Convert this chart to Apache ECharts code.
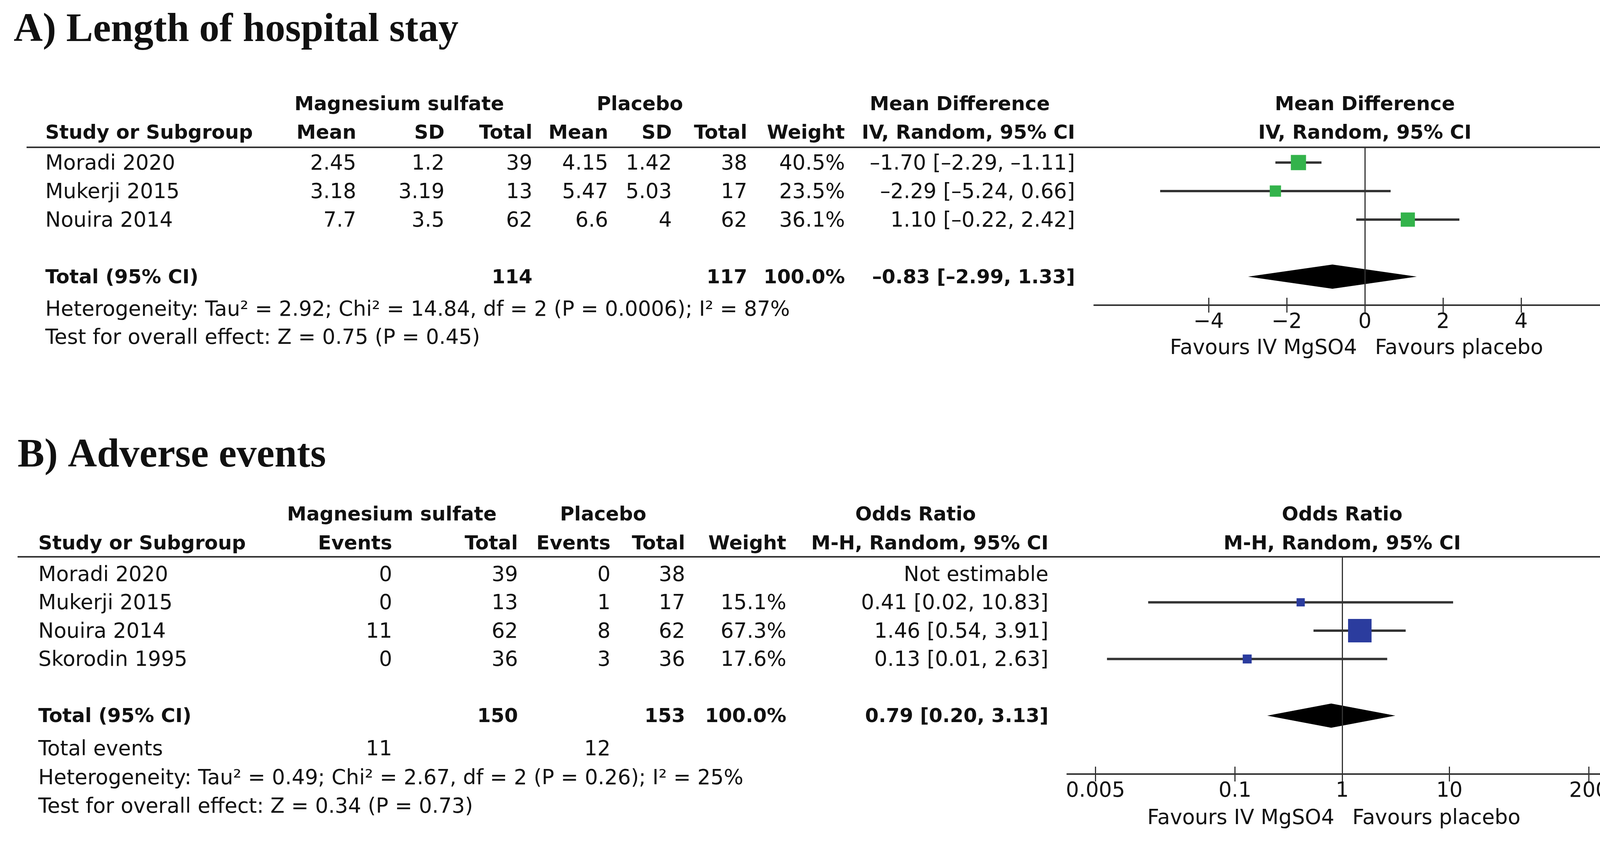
<!DOCTYPE html>
<html>
<head>
<meta charset="utf-8">
<title>Forest plots</title>
<script src="https://cdn.jsdelivr.net/npm/echarts@6/dist/echarts.min.js"></script>
<style>
  html, body { margin: 0; padding: 0; background: #fff; }
  #main { width: 4277px; height: 2160px; }
</style>
</head>
<body>
<div id="main"></div>
<script>
// A) Length of hospital stay
var studiesA = ['Moradi 2020', 'Mukerji 2015', 'Nouira 2014'];
var mgMeanA = [2.45, 3.18, 7.7];
var mgSdA = [1.2, 3.19, 3.5];
var mgTotalA = [39, 13, 62];
var plMeanA = [4.15, 5.47, 6.6];
var plSdA = [1.42, 5.03, 4];
var plTotalA = [38, 17, 62];
var weightA = [40.5, 23.5, 36.1];
var mdA = [-1.70, -2.29, 1.10];
var mdLowA = [-2.29, -5.24, -0.22];
var mdHighA = [-1.11, 0.66, 2.42];
var totalsA = [114, 117];
var pooledA = [-0.83, -2.99, 1.33];   // estimate, lower, upper
var hetA = 'Heterogeneity: Tau² = 2.92; Chi² = 14.84, df = 2 (P = 0.0006); I² = 87%';
var testA = 'Test for overall effect: Z = 0.75 (P = 0.45)';
var ticksA = [-4, -2, 0, 2, 4];

// B) Adverse events
var studiesB = ['Moradi 2020', 'Mukerji 2015', 'Nouira 2014', 'Skorodin 1995'];
var mgEventsB = [0, 0, 11, 0];
var mgTotalB = [39, 13, 62, 36];
var plEventsB = [0, 1, 8, 3];
var plTotalB = [38, 17, 62, 36];
var weightB = [null, 15.1, 67.3, 17.6];
var orB = [null, 0.41, 1.46, 0.13];
var orLowB = [null, 0.0155, 0.54, 0.0064];
var orHighB = [null, 10.83, 3.91, 2.63];
var totalsB = [150, 153];
var eventsB = [11, 12];
var pooledB = [0.79, 0.20, 3.13];
var hetB = 'Heterogeneity: Tau² = 0.49; Chi² = 2.67, df = 2 (P = 0.26); I² = 25%';
var testB = 'Test for overall effect: Z = 0.34 (P = 0.73)';
var ticksB = [0.005, 0.1, 1, 10, 200];

var FONT = '"DejaVu Sans", sans-serif';
var INK = '#111';
var LINE = '#333';
var GREEN = '#33b34b';
var BLUE = '#2b3c9e';

// row layout (pixels)
var rowA0 = 416, rowStepA = 73;
var rowB0 = 1469, rowStepB = 72.5;

function fmt(v) {
  return (v < 0 ? '\u2013' : '') + Math.abs(v).toFixed(2);
}
function ci(e, lo, hi) {
  return fmt(e) + ' [' + fmt(lo) + ', ' + fmt(hi) + ']';
}
function txt(x, y, s, align, bold) {
  return {
    type: 'text', x: x, y: y + 4, silent: true,
    style: {
      text: s, fill: INK, fontFamily: FONT,
      fontSize: bold ? 50 : 53, fontWeight: bold ? 'bold' : 'normal',
      align: align || 'left', verticalAlign: 'middle'
    }
  };
}
function title(x, y, s) {
  return {
    type: 'text', x: x, y: y, silent: true,
    style: {
      text: s, fill: INK, fontFamily: '"Liberation Serif", serif',
      fontSize: 103, fontWeight: 'bold', align: 'left', verticalAlign: 'middle'
    }
  };
}
function hline(x1, x2, y) {
  return { type: 'line', silent: true, shape: { x1: x1, y1: y, x2: x2, y2: y }, style: { stroke: LINE, lineWidth: 4 } };
}

function renderWhisker(params, api) {
  var a = api.coord([api.value(0), api.value(2)]);
  var b = api.coord([api.value(1), api.value(2)]);
  return { type: 'line', shape: { x1: a[0], y1: a[1], x2: b[0], y2: b[1] }, style: { stroke: LINE, lineWidth: 6 } };
}
function renderDiamond(params, api) {
  var c = api.coord([api.value(0), api.value(3)]);
  var l = api.coord([api.value(1), api.value(3)]);
  var r = api.coord([api.value(2), api.value(3)]);
  return {
    type: 'polygon',
    shape: { points: [[l[0], c[1]], [c[0], c[1] - 31], [r[0], c[1]], [c[0], c[1] + 31]] },
    style: { fill: '#000' }
  };
}

function lg(v) { return Math.log10(v); }

function xAxes(grid, min, max, ticks, formatter) {
  var tickStyle = { color: LINE, width: 3 };
  return [{
    type: 'value', gridIndex: grid, position: 'bottom', min: min, max: max,
    splitLine: { show: false },
    axisLine: { onZero: false, lineStyle: { color: LINE, width: 4 } },
    axisTick: { customValues: ticks, length: 19, lineStyle: tickStyle },
    axisLabel: { customValues: ticks, margin: 18, fontFamily: FONT, fontSize: 53, color: INK, formatter: formatter }
  }, {
    type: 'value', gridIndex: grid, position: 'bottom', min: min, max: max,
    splitLine: { show: false },
    axisLine: { show: false, onZero: false },
    axisTick: { customValues: ticks, inside: true, length: 19, lineStyle: tickStyle },
    axisLabel: { show: false }
  }];
}

var chart = echarts.init(document.getElementById('main'));

var ticksBLog = ticksB.map(lg);
var idxB = [1, 2, 3];   // rows of panel B that have an estimate

var option = {
  animation: false,
  backgroundColor: '#fff',
  grid: [
    { left: 2801, top: 377, width: 1388, height: 404, outerBoundsMode: 'none' },
    { left: 2732, top: 1425, width: 1405, height: 556, outerBoundsMode: 'none' }
  ],
  xAxis: xAxes(0, -6.93, 6.95, ticksA, function (v) {
    return (v < 0 ? '\u2212' : '') + Math.abs(v);
  }).concat(xAxes(1, -2.565, 2.554, ticksBLog, function (v) {
    for (var i = 0; i < ticksB.length; i++) {
      if (Math.abs(ticksBLog[i] - v) < 1e-6) return String(ticksB[i]);
    }
    return '';
  })),
  yAxis: [
    { type: 'value', gridIndex: 0, inverse: true, show: false,
      min: (377 - rowA0) / rowStepA, max: (781 - rowA0) / rowStepA },
    { type: 'value', gridIndex: 1, inverse: true, show: false,
      min: (1425 - rowB0) / rowStepB, max: (1981 - rowB0) / rowStepB }
  ],
  series: [
    {
      type: 'custom', xAxisIndex: 0, yAxisIndex: 0, silent: true, z: 2,
      renderItem: renderWhisker, encode: { x: [0, 1], y: 2 },
      data: studiesA.map(function (s, i) { return [mdLowA[i], mdHighA[i], i]; })
    },
    {
      type: 'scatter', xAxisIndex: 0, yAxisIndex: 0, silent: true, z: 3,
      symbol: 'rect',
      symbolSize: function (val, p) { return 15 + 0.59 * weightA[p.dataIndex]; },
      itemStyle: { color: GREEN, opacity: 1 },
      data: mdA.map(function (v, i) { return [v, i]; }),
      markLine: {
        silent: true, symbol: 'none', label: { show: false },
        lineStyle: { color: LINE, width: 3, type: 'solid' },
        data: [{ xAxis: 0 }]
      }
    },
    {
      type: 'custom', xAxisIndex: 0, yAxisIndex: 0, silent: true, z: 2,
      renderItem: renderDiamond, encode: { x: [0, 1, 2], y: 3 },
      data: [[pooledA[0], pooledA[1], pooledA[2], 4]]
    },
    {
      type: 'custom', xAxisIndex: 2, yAxisIndex: 1, silent: true, z: 2,
      renderItem: renderWhisker, encode: { x: [0, 1], y: 2 },
      data: idxB.map(function (i) { return [lg(orLowB[i]), lg(orHighB[i]), i]; })
    },
    {
      type: 'scatter', xAxisIndex: 2, yAxisIndex: 1, silent: true, z: 3,
      symbol: 'rect',
      symbolSize: function (val, p) { return 9.7 + 0.75 * weightB[idxB[p.dataIndex]]; },
      itemStyle: { color: BLUE, opacity: 1 },
      data: idxB.map(function (i) { return [lg(orB[i]), i]; }),
      markLine: {
        silent: true, symbol: 'none', label: { show: false },
        lineStyle: { color: LINE, width: 3, type: 'solid' },
        data: [{ xAxis: 0 }]
      }
    },
    {
      type: 'custom', xAxisIndex: 2, yAxisIndex: 1, silent: true, z: 2,
      renderItem: renderDiamond, encode: { x: [0, 1, 2], y: 3 },
      data: [[lg(pooledB[0]), lg(pooledB[1]), lg(pooledB[2]), 5]]
    }
  ]
};
chart.setOption(option);

// table text and rules
var zeroA = chart.convertToPixel({ xAxisIndex: 0, yAxisIndex: 0 }, [0, 0])[0];
var zeroB = chart.convertToPixel({ xAxisIndex: 2, yAxisIndex: 1 }, [0, 0])[0];

var g = [];
g.push(title(35, 78, 'A) Length of hospital stay'));
g.push(txt(1022, 265, 'Magnesium sulfate', 'center', true));
g.push(txt(1638, 265, 'Placebo', 'center', true));
g.push(txt(2457, 265, 'Mean Difference', 'center', true));
g.push(txt(zeroA, 265, 'Mean Difference', 'center', true));
[['Study or Subgroup', 116, 'left'], ['Mean', 912, 'right'], ['SD', 1138, 'right'], ['Total', 1363, 'right'],
 ['Mean', 1557, 'right'], ['SD', 1720, 'right'], ['Total', 1913, 'right'], ['Weight', 2163, 'right'],
 ['IV, Random, 95% CI', 2752, 'right']].forEach(function (h) {
  g.push(txt(h[1], 338, h[0], h[2], true));
});
g.push(txt(zeroA, 338, 'IV, Random, 95% CI', 'center', true));
g.push(hline(68, 4240, 377));

studiesA.forEach(function (s, i) {
  var y = rowA0 + i * rowStepA;
  g.push(txt(116, y, s, 'left'));
  g.push(txt(912, y, String(mgMeanA[i]), 'right'));
  g.push(txt(1138, y, String(mgSdA[i]), 'right'));
  g.push(txt(1363, y, String(mgTotalA[i]), 'right'));
  g.push(txt(1557, y, String(plMeanA[i]), 'right'));
  g.push(txt(1720, y, String(plSdA[i]), 'right'));
  g.push(txt(1913, y, String(plTotalA[i]), 'right'));
  g.push(txt(2163, y, weightA[i].toFixed(1) + '%', 'right'));
  g.push(txt(2752, y, ci(mdA[i], mdLowA[i], mdHighA[i]), 'right'));
});
var yTotA = rowA0 + 4 * rowStepA;
g.push(txt(116, yTotA, 'Total (95% CI)', 'left', true));
g.push(txt(1363, yTotA, String(totalsA[0]), 'right', true));
g.push(txt(1913, yTotA, String(totalsA[1]), 'right', true));
g.push(txt(2163, yTotA, '100.0%', 'right', true));
g.push(txt(2752, yTotA, ci(pooledA[0], pooledA[1], pooledA[2]), 'right', true));
g.push(txt(116, 790, hetA, 'left'));
g.push(txt(116, 862, testA, 'left'));
g.push(txt(zeroA - 20, 888, 'Favours IV MgSO4', 'right'));
g.push(txt(zeroA + 26, 888, 'Favours placebo', 'left'));

g.push(title(45, 1167, 'B) Adverse events'));
g.push(txt(1003, 1315, 'Magnesium sulfate', 'center', true));
g.push(txt(1544, 1315, 'Placebo', 'center', true));
g.push(txt(2344, 1315, 'Odds Ratio', 'center', true));
g.push(txt(zeroB, 1315, 'Odds Ratio', 'center', true));
[['Study or Subgroup', 98, 'left'], ['Events', 1004, 'right'], ['Total', 1326, 'right'], ['Events', 1563, 'right'],
 ['Total', 1754, 'right'], ['Weight', 2013, 'right'], ['M-H, Random, 95% CI', 2684, 'right']].forEach(function (h) {
  g.push(txt(h[1], 1389, h[0], h[2], true));
});
g.push(txt(zeroB, 1389, 'M-H, Random, 95% CI', 'center', true));
g.push(hline(45, 4189, 1425));

studiesB.forEach(function (s, i) {
  var y = rowB0 + i * rowStepB;
  g.push(txt(98, y, s, 'left'));
  g.push(txt(1004, y, String(mgEventsB[i]), 'right'));
  g.push(txt(1326, y, String(mgTotalB[i]), 'right'));
  g.push(txt(1563, y, String(plEventsB[i]), 'right'));
  g.push(txt(1754, y, String(plTotalB[i]), 'right'));
  if (weightB[i] !== null) {
    g.push(txt(2013, y, weightB[i].toFixed(1) + '%', 'right'));
    g.push(txt(2684, y, ci(orB[i], orLowB[i], orHighB[i]), 'right'));
  } else {
    g.push(txt(2684, y, 'Not estimable', 'right'));
  }
});
var yTotB = rowB0 + 5 * rowStepB;
g.push(txt(98, yTotB, 'Total (95% CI)', 'left', true));
g.push(txt(1326, yTotB, String(totalsB[0]), 'right', true));
g.push(txt(1754, yTotB, String(totalsB[1]), 'right', true));
g.push(txt(2013, yTotB, '100.0%', 'right', true));
g.push(txt(2684, yTotB, ci(pooledB[0], pooledB[1], pooledB[2]), 'right', true));
g.push(txt(98, 1915, 'Total events', 'left'));
g.push(txt(1004, 1915, String(eventsB[0]), 'right'));
g.push(txt(1563, 1915, String(eventsB[1]), 'right'));
g.push(txt(98, 1989, hetB, 'left'));
g.push(txt(98, 2062, testB, 'left'));
g.push(txt(zeroB - 20, 2091, 'Favours IV MgSO4', 'right'));
g.push(txt(zeroB + 26, 2091, 'Favours placebo', 'left'));

chart.setOption({ graphic: g });
</script>
</body>
</html>
